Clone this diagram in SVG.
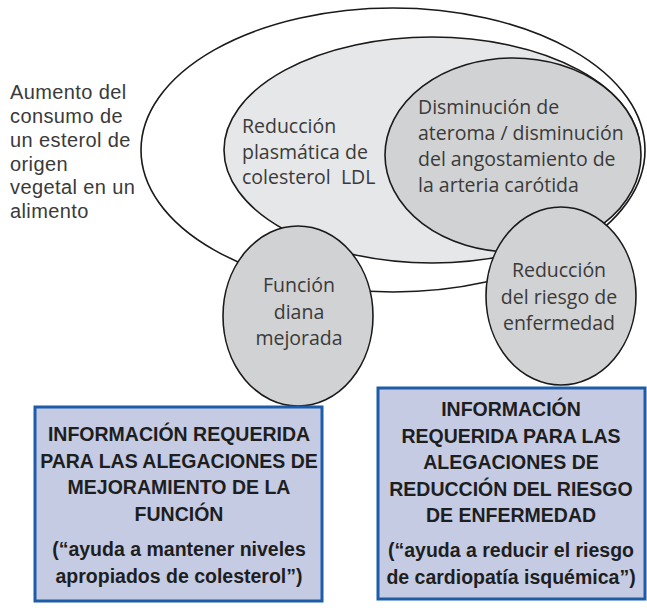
<svg xmlns="http://www.w3.org/2000/svg" width="647" height="608" viewBox="0 0 647 608">
<style>
.shape{stroke:#1a1a1a;stroke-width:1.6}
.lbl{font-family:"Open Sans","DejaVu Sans",sans-serif;font-size:19.5px;fill:#3a3a3a}
.side{font-family:"Liberation Sans",Arial,sans-serif;font-size:20px;letter-spacing:0.4px;fill:#3a3a3a}
.box{fill:#c4cbe3;stroke:#1c5ca8;stroke-width:3}
.bt{font-family:"Liberation Sans",Arial,sans-serif;font-weight:bold;font-size:19.5px;fill:#1e1e1e;text-anchor:middle}
.mid{text-anchor:middle}
</style>
<rect width="647" height="608" fill="#ffffff"/>
<g id="outer">
<ellipse class="shape" cx="393" cy="150" rx="252" ry="142" fill="#ffffff"/>
</g>
<g id="ldl">
<ellipse class="shape" cx="432" cy="150" rx="208" ry="113" fill="#e6e7e9"/>
<text class="lbl" x="242" y="133">Reducción</text>
<text class="lbl" x="242" y="158.5">plasmática de</text>
<text class="lbl" x="242" y="184" xml:space="preserve">colesterol  LDL</text>
</g>
<g id="ateroma">
<ellipse class="shape" cx="513" cy="155" rx="128" ry="97" fill="#d1d2d4"/>
<text class="lbl" x="418" y="114">Disminución de</text>
<text class="lbl" x="418" y="140">ateroma / disminución</text>
<text class="lbl" x="418" y="166">del angostamiento de</text>
<text class="lbl" x="418" y="192">la arteria carótida</text>
</g>
<g id="funcion">
<ellipse class="shape" cx="298" cy="316" rx="75" ry="90" fill="#d1d2d4"/>
<text class="lbl mid" x="299" y="292">Función</text>
<text class="lbl mid" x="299" y="318.5">diana</text>
<text class="lbl mid" x="299" y="345">mejorada</text>
</g>
<g id="riesgo">
<ellipse class="shape" cx="561" cy="296" rx="75" ry="89" fill="#d1d2d4"/>
<text class="lbl mid" x="559" y="277">Reducción</text>
<text class="lbl mid" x="559" y="303.5">del riesgo de</text>
<text class="lbl mid" x="559" y="330">enfermedad</text>
</g>
<g id="aumento">
<text class="side" x="10" y="99">Aumento del</text>
<text class="side" x="10" y="123">consumo de</text>
<text class="side" x="10" y="147">un esterol de</text>
<text class="side" x="10" y="170.5">origen</text>
<text class="side" x="10" y="194">vegetal en un</text>
<text class="side" x="10" y="217.5">alimento</text>
</g>
<g id="box-funcion">
<rect class="box" x="35" y="407" width="287" height="194"/>
<text class="bt" x="179" y="441">INFORMACIÓN REQUERIDA</text>
<text class="bt" x="179" y="467.5">PARA LAS ALEGACIONES DE</text>
<text class="bt" x="179" y="494">MEJORAMIENTO DE LA</text>
<text class="bt" x="179" y="520.5">FUNCIÓN</text>
<text class="bt" x="179" y="556">(“ayuda a mantener niveles</text>
<text class="bt" x="179" y="582.5">apropiados de colesterol”)</text>
</g>
<g id="box-riesgo">
<rect class="box" x="378" y="388" width="267" height="211"/>
<text class="bt" x="511" y="416">INFORMACIÓN</text>
<text class="bt" x="511" y="442.5">REQUERIDA PARA LAS</text>
<text class="bt" x="511" y="469">ALEGACIONES DE</text>
<text class="bt" x="511" y="495.5">REDUCCIÓN DEL RIESGO</text>
<text class="bt" x="511" y="522">DE ENFERMEDAD</text>
<text class="bt" x="511" y="557">(“ayuda a reducir el riesgo</text>
<text class="bt" x="511" y="584">de cardiopatía isquémica”)</text>
</g>
<g id="connectors"/>
</svg>
